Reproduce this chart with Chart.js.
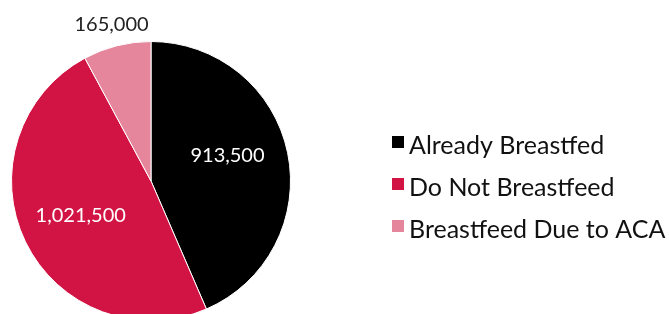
<!DOCTYPE html>
<html>
<head>
<meta charset="utf-8">
<script src="https://cdn.jsdelivr.net/npm/chart.js@4"></script>
<style>
html,body{margin:0;padding:0;background:#fff;overflow:hidden;width:669px;height:314px;}
canvas{display:block;}
</style>
</head>
<body>
<canvas id="c" width="669" height="330"></canvas>
<script>
const categories = ["Already Breastfed", "Do Not Breastfeed", "Breastfeed Due to ACA"];
const values = [913500, 1021500, 165000];
const colors = ["#000000", "#D21445", "#E5869C"];
const FONT = "Lato, 'Open Sans', sans-serif";

const labelPlugin = {
  id: 'sliceLabels',
  afterDatasetsDraw(chart) {
    const ctx = chart.ctx;
    const meta = chart.getDatasetMeta(0);
    ctx.save();
    ctx.font = "20px " + FONT;
    ctx.textAlign = 'center';
    ctx.textBaseline = 'middle';
    meta.data.forEach((arc, i) => {
      const p = arc.getProps(['x','y','startAngle','endAngle','outerRadius'], true);
      const mid = (p.startAngle + p.endAngle) / 2;
      const text = values[i].toLocaleString('en-US');
      let r, color, dy = 0;
      if (i === 2) { r = p.outerRadius + 22; color = '#222'; }
      else { r = p.outerRadius * 0.56; color = '#ffffff'; if (i === 0) dy = -10; }
      ctx.fillStyle = color;
      ctx.fillText(text, p.x + Math.cos(mid) * r, p.y + Math.sin(mid) * r + dy);
    });
    ctx.restore();
  },
  afterDraw(chart) {
    const ctx = chart.ctx;
    ctx.save();
    ctx.font = "25px " + FONT;
    ctx.textBaseline = 'middle';
    ctx.textAlign = 'left';
    categories.forEach((c, i) => {
      const y = 146 + i * 42;
      ctx.fillStyle = colors[i];
      ctx.fillRect(392, y - 10, 12, 12);
      ctx.fillStyle = '#111';
      ctx.fillText(c, 409, y);
    });
    ctx.restore();
  }
};

new Chart(document.getElementById('c'), {
  type: 'pie',
  data: {
    labels: categories,
    datasets: [{
      data: values,
      backgroundColor: colors,
      borderColor: '#ffffff',
      borderWidth: 1
    }]
  },
  options: {
    responsive: false,
    animation: false,
    layout: { padding: { top: 41, left: 11, right: 378, bottom: 9 } },
    plugins: { legend: { display: false }, tooltip: { enabled: false } }
  },
  plugins: [labelPlugin]
});
</script>
</body>
</html>
